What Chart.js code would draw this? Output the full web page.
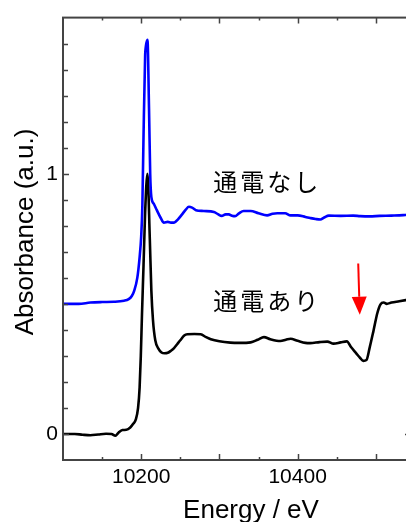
<!DOCTYPE html>
<html>
<head>
<meta charset="utf-8">
<script src="https://cdn.jsdelivr.net/npm/chart.js@4"></script>
<style>
  html, body { margin: 0; padding: 0; background: #fff; overflow: hidden; }
  #wrap { width: 413px; height: 522px; }
</style>
</head>
<body>
<div id="wrap"><canvas id="xanes" width="413" height="522"></canvas></div>
<script>
// Energy axis (eV) and absorbance for the two spectra
const energyOff = [10100, 10120, 10135, 10150, 10165, 10178, 10184, 10188, 10191, 10195,
  10198, 10200, 10201.5, 10203, 10205, 10206, 10208, 10210, 10211.5, 10213,
  10216, 10220, 10225, 10229, 10234, 10238, 10242, 10247, 10252, 10257,
  10261, 10265, 10270, 10280, 10293, 10298, 10303, 10308, 10312, 10316,
  10320, 10325, 10331, 10340, 10350, 10361, 10368, 10374, 10384, 10391,
  10400, 10410, 10416, 10423, 10429, 10434, 10440, 10455, 10471, 10480,
  10492, 10505, 10520, 10535, 10545];
const absOff = [0.500, 0.500, 0.505, 0.507, 0.508, 0.512, 0.518, 0.530, 0.550, 0.600,
  0.680, 0.760, 0.880, 1.150, 1.450, 1.490, 1.515, 1.250, 1.000, 0.910,
  0.885, 0.860, 0.830, 0.812, 0.815, 0.812, 0.812, 0.825, 0.843, 0.862,
  0.873, 0.870, 0.860, 0.857, 0.853, 0.845, 0.838, 0.844, 0.844, 0.839,
  0.837, 0.848, 0.857, 0.857, 0.848, 0.840, 0.846, 0.848, 0.848, 0.840,
  0.840, 0.834, 0.830, 0.826, 0.824, 0.832, 0.839, 0.838, 0.839, 0.837,
  0.836, 0.838, 0.839, 0.841, 0.845];

const energyOn = [10100, 10115, 10125, 10135, 10145, 10155, 10162, 10167, 10171, 10176,
  10181, 10186, 10190, 10193, 10196, 10198, 10199.5, 10201, 10203, 10205,
  10208, 10211, 10213, 10215, 10218, 10222, 10226, 10230, 10234, 10238,
  10242, 10246, 10250, 10255, 10259, 10268, 10276, 10283, 10289, 10300,
  10314, 10326, 10340, 10349, 10357, 10365, 10378, 10385, 10391, 10400,
  10410, 10416, 10428, 10438, 10446, 10455, 10463, 10468, 10475, 10480,
  10484, 10488, 10492, 10497, 10502, 10506, 10510, 10514, 10520, 10530, 10545];
const absOn = [0.000, 0.000, -0.003, -0.005, -0.002, 0.001, 0.000, -0.007, 0.005, 0.015,
  0.016, 0.025, 0.040, 0.055, 0.100, 0.180, 0.300, 0.460, 0.650, 0.850,
  1.000, 0.750, 0.550, 0.440, 0.360, 0.328, 0.313, 0.310, 0.312, 0.320,
  0.330, 0.345, 0.360, 0.378, 0.383, 0.384, 0.383, 0.372, 0.364, 0.356,
  0.351, 0.350, 0.352, 0.362, 0.372, 0.364, 0.357, 0.362, 0.366, 0.358,
  0.350, 0.349, 0.353, 0.355, 0.347, 0.352, 0.356, 0.335, 0.310, 0.292,
  0.281, 0.284, 0.330, 0.396, 0.465, 0.498, 0.505, 0.500, 0.505, 0.510, 0.518];

// Axes
const xMin = 10100, xMax = 10545, xMinorStep = 50, xMajorStep = 100;
const yMin = -0.1, yMax = 1.6, yMinorStep = 0.1;
const xTickLabels = [10200, 10400];
const yTickLabels = [0, 1];
const yRightTicks = [0];

// Text
const xTitle = 'Energy / eV';
const yTitle = 'Absorbance (a.u.)';
const seriesNames = ['通電なし', '通電あり'];
const labelAt = [[10292, 0.967], [10292, 0.51]];
const arrowFrom = [10477.5, 0.655], arrowTo = [10479.5, 0.458];

const axisColor = '#444';
const latin = '"Liberation Sans", Arial, sans-serif';

const toPts = (xs, ys) => xs.map((e, i) => ({ x: e, y: ys[i] }));

// frame, inward ticks, titles, labels and the arrow
const decor = {
  id: 'decor',
  afterDraw(chart) {
    const { ctx, chartArea: a, scales: { x, y } } = chart;
    ctx.save();
    ctx.strokeStyle = axisColor;
    ctx.lineWidth = 2;
    ctx.strokeRect(a.left, a.top, a.right - a.left, a.bottom - a.top);

    ctx.lineWidth = 1.5;
    ctx.beginPath();
    for (let e = xMin + xMinorStep; e < xMax; e += xMinorStep) {
      const px = Math.round(x.getPixelForValue(e)) + 0.5;
      const len = e % xMajorStep === 0 ? 6 : 3;
      ctx.moveTo(px, a.bottom); ctx.lineTo(px, a.bottom - len);
      ctx.moveTo(px, a.top); ctx.lineTo(px, a.top + len);
    }
    for (let k = 1; yMin + k * yMinorStep < yMax - 1e-6; k++) {
      const v = yMin + k * yMinorStep;
      const py = Math.round(y.getPixelForValue(v)) + 0.5;
      const len = yTickLabels.some(t => Math.abs(t - v) < 1e-6) ? 6 : 5;
      ctx.moveTo(a.left, py); ctx.lineTo(a.left + len, py);
    }
    yRightTicks.forEach(v => {
      const py = Math.round(y.getPixelForValue(v)) + 0.5;
      ctx.moveTo(a.right, py); ctx.lineTo(a.right - 6, py);
    });
    ctx.stroke();

    // axis titles
    ctx.fillStyle = '#000';
    ctx.font = '26px ' + latin;
    ctx.textAlign = 'center';
    ctx.textBaseline = 'alphabetic';
    ctx.fillText(xTitle, 251, 518);
    ctx.save();
    ctx.translate(33, 232);
    ctx.rotate(-Math.PI / 2);
    ctx.fillText(yTitle, 0, 0);
    ctx.restore();

    // series names
    ctx.font = '24px "Noto Sans CJK JP", sans-serif';
    ctx.letterSpacing = '3px';
    ctx.textAlign = 'left';
    ctx.textBaseline = 'middle';
    seriesNames.forEach((s, i) => {
      ctx.fillText(s, x.getPixelForValue(labelAt[i][0]), y.getPixelForValue(labelAt[i][1]));
    });
    ctx.letterSpacing = '0px';

    // red arrow
    const x0 = x.getPixelForValue(arrowFrom[0]), y0 = y.getPixelForValue(arrowFrom[1]);
    const x1 = x.getPixelForValue(arrowTo[0]), y1 = y.getPixelForValue(arrowTo[1]);
    const ang = Math.atan2(y1 - y0, x1 - x0);
    const hl = 18, hw = 7.5;
    const bx = x1 - hl * Math.cos(ang), by = y1 - hl * Math.sin(ang);
    ctx.strokeStyle = '#f00';
    ctx.fillStyle = '#f00';
    ctx.lineWidth = 2;
    ctx.beginPath();
    ctx.moveTo(x0, y0); ctx.lineTo(bx, by);
    ctx.stroke();
    ctx.beginPath();
    ctx.moveTo(x1, y1);
    ctx.lineTo(bx + hw * Math.sin(ang), by - hw * Math.cos(ang));
    ctx.lineTo(bx - hw * Math.sin(ang), by + hw * Math.cos(ang));
    ctx.closePath();
    ctx.fill();
    ctx.restore();
  }
};

new Chart(document.getElementById('xanes'), {
  type: 'line',
  data: {
    datasets: [{
      label: seriesNames[0],
      data: toPts(energyOff, absOff),
      borderColor: '#0000ff',
      borderWidth: 2.6,
      pointRadius: 0,
      cubicInterpolationMode: 'monotone'
    }, {
      label: seriesNames[1],
      data: toPts(energyOn, absOn),
      borderColor: '#000000',
      borderWidth: 2.6,
      pointRadius: 0,
      cubicInterpolationMode: 'monotone'
    }]
  },
  options: {
    responsive: false,
    animation: false,
    devicePixelRatio: 1,
    layout: { padding: { top: 15, right: 2, left: 0, bottom: 0 } },
    plugins: {
      legend: { display: false },
      tooltip: { enabled: false }
    },
    scales: {
      x: {
        type: 'linear',
        min: xMin,
        max: xMax,
        grid: { display: false, drawTicks: false },
        border: { display: false },
        afterBuildTicks: s => { s.ticks = xTickLabels.map(v => ({ value: v })); },
        afterFit: s => { s.height = 62; },
        ticks: {
          padding: 5,
          color: '#000',
          font: { family: latin, size: 21 },
          maxRotation: 0,
          callback: v => String(v)
        }
      },
      y: {
        type: 'linear',
        min: yMin,
        max: yMax,
        grid: { display: false, drawTicks: false },
        border: { display: false },
        afterBuildTicks: s => { s.ticks = yTickLabels.map(v => ({ value: v })); },
        afterFit: s => { s.width = 63; },
        ticks: {
          padding: 5,
          color: '#000',
          font: { family: latin, size: 21 },
          callback: v => String(v)
        }
      }
    }
  },
  plugins: [decor]
});
</script>
</body>
</html>
